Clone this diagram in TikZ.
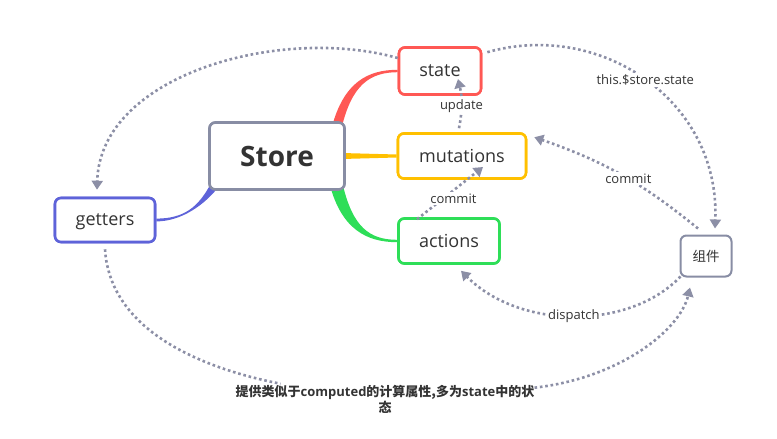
\documentclass[tikz,border=0pt]{standalone}
\usepackage{fontspec}
\setmainfont{Open Sans}
\newfontfamily\cjk{Noto Sans CJK SC}
\usetikzlibrary{arrows.meta,calc}
\definecolor{cred}{RGB}{255,88,84}
\definecolor{cyellow}{RGB}{255,192,0}
\definecolor{cgreen}{RGB}{46,222,88}
\definecolor{cblue}{RGB}{94,99,217}
\definecolor{cgray}{RGB}{136,141,164}
\definecolor{cflow}{RGB}{140,143,166}
\definecolor{ctext}{RGB}{51,51,51}
\newcommand{\lat}[1]{{\rmfamily #1}}
\tikzset{
  box/.style={draw,fill=white,rounded corners=6pt,line width=2.6pt,align=center,text=ctext,font=\fontsize{18}{21}\selectfont,inner sep=0pt},
  flow/.style={draw=cflow,line width=2.6pt,dash pattern=on 2.6pt off 2.8pt,-{Triangle[length=9pt,width=11pt]}},
  lbl/.style={font=\fontsize{13}{15}\selectfont,text=ctext,fill=white,inner sep=1.5pt}
}
\begin{document}
\begin{tikzpicture}[x=1pt,y=-1pt]
\useasboundingbox (0,0) rectangle (777,439);
% boxes are placed first so the branches can use their anchors
\path (277,156) node[box,draw=cgray,minimum width=135pt,minimum height=67pt,font=\bfseries\fontsize{28}{32}\selectfont] (store) {Store};
\path (440,71) node[box,draw=cred,minimum width=82pt,minimum height=47pt] (state) {state};
\path (462,156) node[box,draw=cyellow,minimum width=128pt,minimum height=45pt] (mutations) {mutations};
\path (449,241) node[box,draw=cgreen,minimum width=101pt,minimum height=45pt] (actions) {actions};
\path (105,220) node[box,draw=cblue,minimum width=100pt,minimum height=44pt,text depth=0pt] (getters) {getters};
\path (706,256) node[box,draw=cgray,line width=2pt,minimum width=51pt,minimum height=41pt,font=\cjk\fontsize{13.5}{16}\selectfont] (comp) {组件};
% branches from the store
\fill[cred] ([xshift=-14pt,yshift=-6pt]store.north east) .. controls +(12,-45) and +(-30,0) .. ([yshift=1.2pt]state.west)
  -- ([yshift=-1.2pt]state.west) .. controls +(-28,0) and +(10,-42) .. ([xshift=-4pt,yshift=-6pt]store.north east) -- cycle;
\fill[cyellow] ([xshift=-4pt,yshift=3pt]store.east) -- ([yshift=1.5pt]mutations.west) -- ([yshift=-1.5pt]mutations.west) -- ([xshift=-4pt,yshift=-3pt]store.east) -- cycle;
\fill[cgreen] ([xshift=-16pt,yshift=6pt]store.south east) .. controls +(12,45) and +(-30,0) .. ([yshift=-1.2pt]actions.west)
  -- ([yshift=1.2pt]actions.west) .. controls +(-28,0) and +(10,42) .. ([xshift=-3pt,yshift=6pt]store.south east) -- cycle;
\fill[cblue] ([xshift=12pt,yshift=6pt]store.south west) .. controls +(-15,20) and +(25,0) .. ([yshift=-1.4pt]getters.east)
  -- ([yshift=1.4pt]getters.east) .. controls +(28,0) and +(-12,22) .. ([xshift=2pt,yshift=6pt]store.south west) -- cycle;
% redraw boxes on top of the branches
\path (store.center) node[box,draw=cgray,minimum width=135pt,minimum height=67pt,font=\bfseries\fontsize{28}{32}\selectfont] {Store};
\path (state.center) node[box,draw=cred,minimum width=82pt,minimum height=47pt] {state};
\path (mutations.center) node[box,draw=cyellow,minimum width=128pt,minimum height=45pt] {mutations};
\path (actions.center) node[box,draw=cgreen,minimum width=101pt,minimum height=45pt] {actions};
\path (getters.center) node[box,draw=cblue,minimum width=100pt,minimum height=44pt,text depth=0pt] {getters};
% dotted flows
\draw[flow] ([yshift=13pt]state.west) .. controls (280,25) and (100,75) .. ([xshift=-8pt,yshift=7pt]getters.north);
\draw[flow] ([xshift=-3pt,yshift=4pt]mutations.north) to[bend right=12] node[lbl,pos=0.45]{update} ([xshift=18pt,yshift=-8pt]state.center);
\draw[flow] ([xshift=-32pt,yshift=-2pt]actions.north) -- node[lbl,pos=0.4,xshift=10pt]{commit} ([xshift=21pt,yshift=-11pt]mutations.center);
\draw[flow] ([xshift=5pt,yshift=-6pt]state.north east) .. controls (600,20) and (720,100) .. node[lbl,pos=0.5]{this.\$store.state} ([xshift=9pt,yshift=6pt]comp.north);
\draw[flow] ([xshift=-8pt,yshift=6pt]comp.north) to[bend right=10] node[lbl,pos=0.45]{commit} ([xshift=7pt,yshift=-5pt]mutations.north east);
\draw[flow] ([xshift=1pt,yshift=1pt]comp.south west) .. controls (630,330) and (520,330) .. node[lbl,pos=0.5]{dispatch} ([xshift=12pt,yshift=-6pt]actions.south);
\node[align=center,inner sep=0pt,text=ctext,font=\cjk\bfseries\fontsize{13}{16}\selectfont] (note) at (385,399) {提供类似于\lat{computed}的计算属性,多为\lat{state}中的状\\态};
\draw[flow,-] ([yshift=-6pt]getters.south) .. controls (110,330) and (200,368) .. ([xshift=45pt,yshift=1pt]note.north west);
\draw[flow] ([yshift=-3pt]note.north east) .. controls (620,378) and (680,330) .. ([xshift=-16pt,yshift=-10pt]comp.south);
\end{tikzpicture}
\end{document}
